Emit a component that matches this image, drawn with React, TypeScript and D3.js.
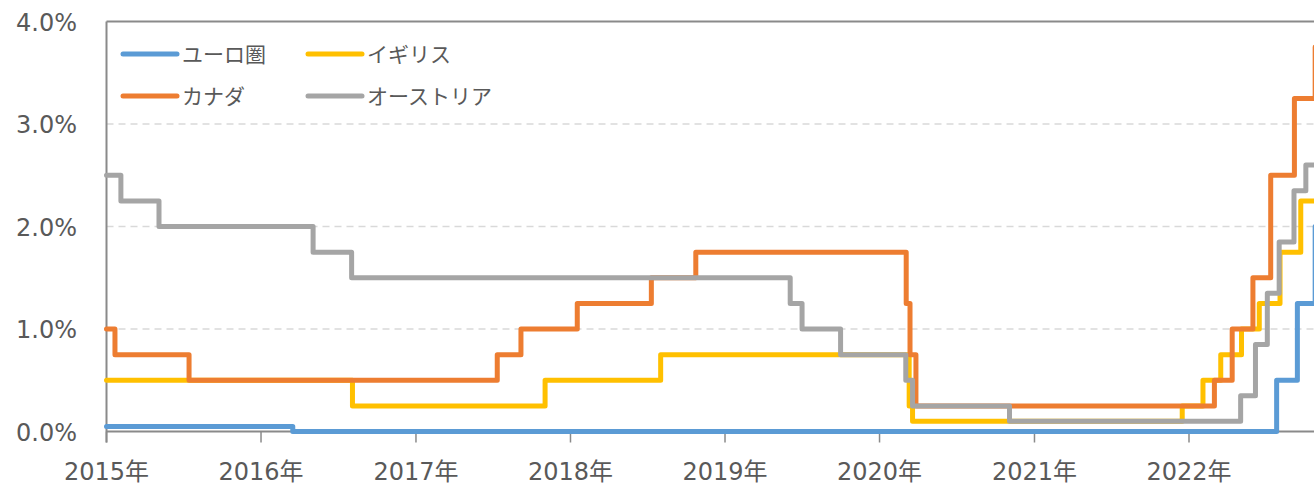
import React from 'react';
import * as d3 from 'd3';

// ---- data (policy rates, %) ----
const seriesNames = ['ユーロ圏', 'イギリス', 'カナダ', 'オーストリア'];
const seriesColors = ['#5B9BD5', '#FFC000', '#ED7D31', '#A5A5A5'];

const euroDates = ['2015-01-01', '2016-03-16', '2022-07-27', '2022-09-14', '2022-10-26'];
const euroRates = [0.05, 0.0, 0.5, 1.25, 2.0];

const ukDates = ['2015-01-01', '2016-08-04', '2017-11-02', '2018-08-02', '2020-03-11', '2020-03-19',
  '2021-12-16', '2022-02-03', '2022-03-17', '2022-05-05', '2022-06-16', '2022-08-04', '2022-09-22'];
const ukRates = [0.5, 0.25, 0.5, 0.75, 0.25, 0.1, 0.25, 0.5, 0.75, 1.0, 1.25, 1.75, 2.25];

const caDates = ['2015-01-01', '2015-01-21', '2015-07-15', '2017-07-12', '2017-09-06', '2018-01-17',
  '2018-07-11', '2018-10-24', '2020-03-04', '2020-03-13', '2020-03-27', '2022-03-02', '2022-04-13',
  '2022-06-01', '2022-07-13', '2022-09-07', '2022-10-26'];
const caRates = [1.0, 0.75, 0.5, 0.75, 1.0, 1.25, 1.5, 1.75, 1.25, 0.75, 0.25, 0.5, 1.0, 1.5, 2.5, 3.25, 3.75];

const auDates = ['2015-01-01', '2015-02-04', '2015-05-05', '2016-05-03', '2016-08-02', '2019-06-04',
  '2019-07-02', '2019-10-01', '2020-03-03', '2020-03-19', '2020-11-03', '2022-05-03', '2022-06-07',
  '2022-07-05', '2022-08-02', '2022-09-06', '2022-10-04'];
const auRates = [2.5, 2.25, 2.0, 1.75, 1.5, 1.25, 1.0, 0.75, 0.5, 0.25, 0.1, 0.35, 0.85, 1.35, 1.85, 2.35, 2.6];

const endDate = '2022-10-31';

const yTicks = [0, 1, 2, 3, 4];
const yTickLabels = ['0.0%', '1.0%', '2.0%', '3.0%', '4.0%'];
const yearTicks = [2015, 2016, 2017, 2018, 2019, 2020, 2021, 2022];
const yearLabels = yearTicks.map((y) => `${y}年`);

type Pt = { d: Date; v: number };

function build(dates: string[], rates: number[]): Pt[] {
  const pts = dates.map((s, i) => ({ d: new Date(s), v: rates[i] }));
  pts.push({ d: new Date(endDate), v: rates[rates.length - 1] });
  return pts;
}

const allSeries = [
  build(euroDates, euroRates),
  build(ukDates, ukRates),
  build(caDates, caRates),
  build(auDates, auRates),
];

export default function App() {
  const W = 1314;
  const H = 486;
  const x = d3
    .scaleUtc()
    .domain([new Date('2015-01-01'), new Date('2022-01-01')])
    .range([106.5, 1189]);
  const y = d3.scaleLinear().domain([0, 4]).range([431.5, 21.5]);

  const line = d3
    .line<Pt>()
    .x((p) => x(p.d))
    .y((p) => y(p.v))
    .curve(d3.curveStepAfter);

  const axisColor = '#8A8A8A';
  const textColor = '#595959';
  const x0 = x(new Date('2015-01-01'));

  const legendItems = [
    { i: 0, lx: 123, ly: 54 },
    { i: 1, lx: 308, ly: 54 },
    { i: 2, lx: 123, ly: 96 },
    { i: 3, lx: 308, ly: 96 },
  ];

  return (
    <svg
      width={W}
      height={H}
      style={{ position: 'absolute', left: 0, top: 0, background: '#fff' }}
    >
      {/* gridlines */}
      {yTicks
        .filter((t) => t > 0 && t < 4)
        .map((t) => (
          <line
            key={t}
            x1={x0}
            x2={W}
            y1={y(t)}
            y2={y(t)}
            stroke="#D9D9D9"
            strokeWidth={1.5}
            strokeDasharray="7,5"
          />
        ))}
      {/* top border */}
      <line x1={x0} x2={W} y1={y(4)} y2={y(4)} stroke={axisColor} strokeWidth={2} />
      {/* left axis */}
      <line x1={x0} x2={x0} y1={y(4)} y2={y(0) + 11} stroke={axisColor} strokeWidth={2} />
      {/* bottom axis */}
      <line x1={x0} x2={W} y1={y(0)} y2={y(0)} stroke={axisColor} strokeWidth={2} />
      {yearTicks.map((yr) => {
        const xx = x(new Date(`${yr}-01-01`));
        return (
          <line key={yr} x1={xx} x2={xx} y1={y(0)} y2={y(0) + 11} stroke={axisColor} strokeWidth={1.5} />
        );
      })}
      {/* y labels */}
      {yTicks.map((t, i) => (
        <text
          key={t}
          x={77}
          y={y(t) + 9}
          textAnchor="end"
          fontFamily="'DejaVu Sans', sans-serif"
          fontSize={24}
          fill={textColor}
        >
          {yTickLabels[i]}
        </text>
      ))}
      {/* x labels */}
      {yearTicks.map((yr, i) => (
        <text
          key={yr}
          x={x(new Date(`${yr}-01-01`))}
          y={480}
          textAnchor="middle"
          fontFamily="'DejaVu Sans', 'Noto Sans CJK JP', sans-serif"
          fontSize={24}
          fill={textColor}
        >
          {yearLabels[i]}
        </text>
      ))}
      {/* series */}
      {allSeries.map((pts, i) => (
        <path
          key={i}
          d={line(pts) || ''}
          fill="none"
          stroke={seriesColors[i]}
          strokeWidth={5}
          strokeLinejoin="round"
          strokeLinecap="round"
        />
      ))}
      {/* legend */}
      {legendItems.map(({ i, lx, ly }) => (
        <g key={i}>
          <line
            x1={lx}
            x2={lx + 54}
            y1={ly}
            y2={ly}
            stroke={seriesColors[i]}
            strokeWidth={5}
            strokeLinecap="round"
          />
          <text
            x={lx + 59}
            y={ly + 8}
            fontFamily="'Noto Sans CJK JP', sans-serif"
            fontSize={21}
            fill={textColor}
          >
            {seriesNames[i]}
          </text>
        </g>
      ))}
    </svg>
  );
}
